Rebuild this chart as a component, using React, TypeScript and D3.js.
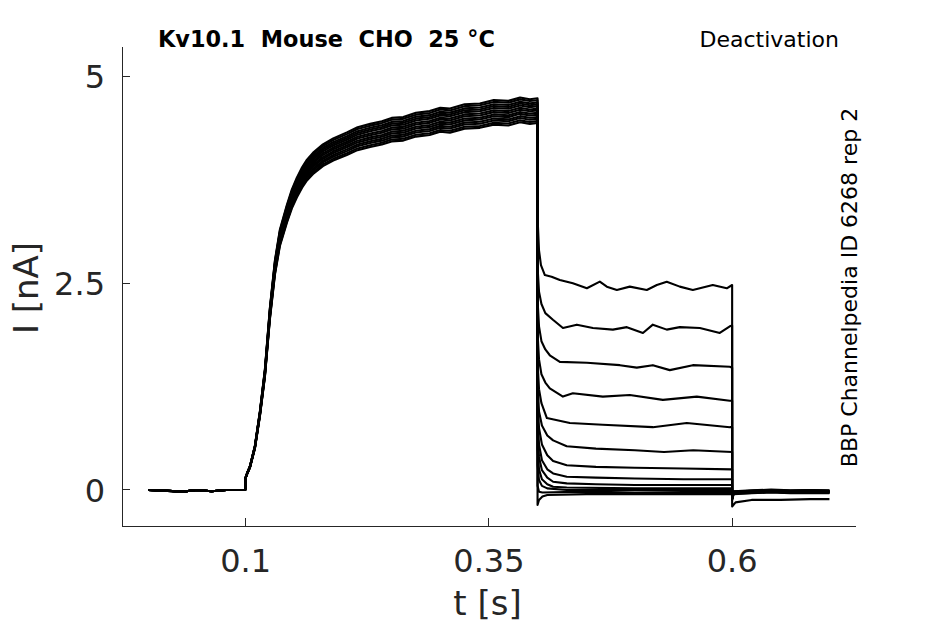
import React from "react";
import * as d3 from "d3";

// Shared activation phase (t in s, I in nA)
const activationT = [0, 0.02, 0.035, 0.05, 0.065, 0.08, 0.0995, 0.1, 0.1015, 0.1044, 0.1095, 0.1147, 0.1198, 0.1249, 0.1301, 0.1352, 0.1424, 0.1475, 0.1527, 0.158, 0.163, 0.17, 0.1794, 0.19, 0.204, 0.215, 0.228, 0.24, 0.25, 0.262, 0.275, 0.2891, 0.3, 0.31, 0.325, 0.3407, 0.355, 0.37, 0.382, 0.3921, 0.4];
const activationI = [0, -0.01, -0.02, 0.0, -0.015, 0.0, 0.0, 0.15, 0.2, 0.28, 0.52, 0.93, 1.42, 2.14, 2.7, 3.06, 3.35, 3.53, 3.67, 3.79, 3.88, 3.97, 4.06, 4.13, 4.2, 4.26, 4.3, 4.33, 4.37, 4.38, 4.43, 4.45, 4.49, 4.48, 4.53, 4.54, 4.58, 4.57, 4.61, 4.59, 4.6];

// per-sweep amplitude of the activation band
const sweepScale = [1.03, 1.019, 0.987, 1.003, 0.97, 1.009, 0.981, 1.025, 0.965, 0.998, 0.992, 1.014, 0.976];

// Tail currents (deactivation) per sweep, [t, I]
const tail1 = [[0.4, 3.3], [0.4015, 2.9], [0.4035, 2.72], [0.4075, 2.6], [0.4144, 2.58], [0.4229, 2.54], [0.4363, 2.5], [0.4507, 2.44], [0.464, 2.52], [0.4712, 2.46], [0.4815, 2.42], [0.4948, 2.46], [0.5123, 2.42], [0.5226, 2.48], [0.5328, 2.52], [0.5462, 2.46], [0.5596, 2.42], [0.5801, 2.48], [0.5945, 2.44], [0.6, 2.48]];
const tail2 = [[0.4, 2.7], [0.4015, 2.4], [0.404, 2.25], [0.408, 2.14], [0.4158, 2.06], [0.4261, 1.96], [0.4404, 2.0], [0.4569, 1.96], [0.4774, 1.94], [0.4918, 1.97], [0.5083, 1.9], [0.5185, 2.0], [0.5328, 1.94], [0.5462, 1.97], [0.5668, 1.96], [0.5873, 1.9], [0.5976, 1.98], [0.6, 1.99]];
const tail3 = [[0.4, 2.3], [0.4015, 1.98], [0.404, 1.8], [0.408, 1.7], [0.4126, 1.63], [0.4229, 1.55], [0.4507, 1.54], [0.4846, 1.51], [0.502, 1.48], [0.5185, 1.51], [0.5359, 1.45], [0.5596, 1.51], [0.5976, 1.49], [0.6, 1.48]];
const tail4 = [[0.4, 1.9], [0.4015, 1.58], [0.404, 1.4], [0.408, 1.3], [0.4126, 1.23], [0.4261, 1.13], [0.4363, 1.17], [0.4671, 1.13], [0.4948, 1.15], [0.5288, 1.09], [0.5637, 1.13], [0.5976, 1.08], [0.6, 1.08]];
const tail5 = [[0.4, 1.55], [0.4015, 1.22], [0.404, 1.05], [0.4096, 0.87], [0.4332, 0.81], [0.4671, 0.79], [0.5185, 0.76], [0.5534, 0.81], [0.5976, 0.76], [0.6, 0.76]];
const tail6 = [[0.4, 1.3], [0.4015, 0.95], [0.4045, 0.78], [0.41, 0.66], [0.416, 0.6], [0.43, 0.53], [0.46, 0.5], [0.5, 0.48], [0.53, 0.46], [0.56, 0.48], [0.6, 0.46]];
const tail7 = [[0.4, 1.1], [0.4015, 0.75], [0.4045, 0.55], [0.41, 0.42], [0.416, 0.35], [0.43, 0.3], [0.46, 0.28], [0.5, 0.27], [0.55, 0.26], [0.6, 0.25]];
const tail8 = [[0.4, 0.9], [0.4015, 0.55], [0.4045, 0.36], [0.41, 0.25], [0.416, 0.2], [0.43, 0.16], [0.46, 0.15], [0.5, 0.14], [0.55, 0.13], [0.6, 0.13]];
const tail9 = [[0.4, 0.7], [0.4015, 0.4], [0.4045, 0.24], [0.41, 0.15], [0.416, 0.1], [0.43, 0.08], [0.46, 0.07], [0.5, 0.06], [0.6, 0.06]];
const tail10 = [[0.4, 0.5], [0.4015, 0.25], [0.4045, 0.13], [0.41, 0.07], [0.416, 0.04], [0.43, 0.03], [0.5, 0.02], [0.6, 0.02]];
const tail11 = [[0.4, 0.3], [0.4015, 0.12], [0.4045, 0.05], [0.41, 0.02], [0.43, 0.0], [0.5, 0.0], [0.6, 0.0]];
const tail12 = [[0.4, 0.05], [0.4015, -0.02], [0.405, -0.03], [0.45, -0.02], [0.5, -0.03], [0.6, -0.02]];
const tail13 = [[0.4, -0.18], [0.4015, -0.12], [0.405, -0.08], [0.41, -0.06], [0.45, -0.05], [0.5, -0.05], [0.6, -0.05]];
const tails = [tail1, tail2, tail3, tail4, tail5, tail6, tail7, tail8, tail9, tail10, tail11, tail12, tail13];

// After the tail step (t > 0.6)
const postNormalT = [0.6, 0.6015, 0.62, 0.64, 0.66, 0.68, 0.7];
const postNormalI = [-0.1, -0.03, -0.02, -0.01, -0.02, -0.015, -0.02];
const postLowT = [0.6, 0.6035, 0.62, 0.65, 0.68, 0.7];
const postLowI = [-0.2, -0.15, -0.12, -0.12, -0.11, -0.11];
const postOffset = [0.0, -0.01, 0.01, -0.02, 0.0, 0.01, -0.01, 0.0, 0.015, -0.015, 0.005, -0.005, 0];

const xTicks = [0.1, 0.35, 0.6];
const xTickLabels = ["0.1", "0.35", "0.6"];
const yTicks = [0, 2.5, 5];
const yTickLabels = ["0", "2.5", "5"];

const titleText = "Kv10.1  Mouse  CHO  25 °C";
const protocolText = "Deactivation";
const sideText = "BBP Channelpedia ID 6268 rep 2";

const W = 945;
const H = 624;
const axisColor = "#262626";
const font = "'DejaVu Sans', sans-serif";

export default function App() {
  const x = d3.scaleLinear().domain([-0.0271, 0.7273]).range([122, 856]);
  const y = d3.scaleLinear().domain([-0.4355, 5.3625]).range([526, 46.7]);

  const sweeps = tails.map((tail, i) => {
    const pts: [number, number][] = [];
    activationT.forEach((t, k) => pts.push([t, activationI[k] * sweepScale[i]]));
    tail.forEach((p) => pts.push([p[0], p[1]]));
    if (i === tails.length - 1) {
      postLowT.forEach((t, k) => pts.push([t, postLowI[k]]));
    } else {
      postNormalT.forEach((t, k) => pts.push([t, postNormalI[k] + postOffset[i]]));
    }
    return pts;
  });

  const line = d3
    .line<[number, number]>()
    .x((d) => x(d[0]))
    .y((d) => y(d[1]))
    .curve(d3.curveLinear);

  const x0 = x.range()[0];
  const x1 = x.range()[1];
  const yb = y.range()[0];
  const yt = y.range()[1];

  return (
    <svg
      width={W}
      height={H}
      style={{ position: "absolute", left: 0, top: 0, background: "#fff" }}
      fontFamily={font}
    >
      <rect x={0} y={0} width={W} height={H} fill="#fff" />
      {/* traces */}
      <g fill="none" stroke="#000" strokeWidth={2.1} strokeLinejoin="round" strokeLinecap="butt">
        {sweeps.map((s, i) => (
          <path key={i} d={line(s) || ""} />
        ))}
      </g>
      {/* axes */}
      <g stroke={axisColor} strokeWidth={1} shapeRendering="crispEdges">
        <line x1={x0} x2={x1} y1={yb} y2={yb} />
        <line x1={x0} x2={x0} y1={yb} y2={yt} />
        {xTicks.map((t) => (
          <line key={"xt" + t} x1={x(t)} x2={x(t)} y1={yb} y2={yb - 8} />
        ))}
        {yTicks.map((v) => (
          <line key={"yt" + v} x1={x0} x2={x0 + 8} y1={y(v)} y2={y(v)} />
        ))}
      </g>
      <g fill={axisColor} fontSize={32}>
        {xTicks.map((t, i) => (
          <text key={"xl" + t} x={x(t)} y={572} textAnchor="middle">
            {xTickLabels[i]}
          </text>
        ))}
        {yTicks.map((v, i) => (
          <text key={"yl" + v} x={105} y={y(v) + 11.7} textAnchor="end">
            {yTickLabels[i]}
          </text>
        ))}
      </g>
      <text x={487.5} y={615} fontSize={34} fill={axisColor} textAnchor="middle">
        t [s]
      </text>
      <text
        transform="translate(37.5,288) rotate(-90)"
        fontSize={34}
        fill={axisColor}
        textAnchor="middle"
      >
        I [nA]
      </text>
      <text x={158} y={47} fontSize={22.4} fontWeight="bold" fill="#000" style={{ whiteSpace: "pre" }}>
        {titleText}
      </text>
      <text x={839} y={47} fontSize={22} fill="#000" textAnchor="end">
        {protocolText}
      </text>
      <text transform="translate(857,287.5) rotate(-90)" fontSize={22} fill="#000" textAnchor="middle">
        {sideText}
      </text>
    </svg>
  );
}
